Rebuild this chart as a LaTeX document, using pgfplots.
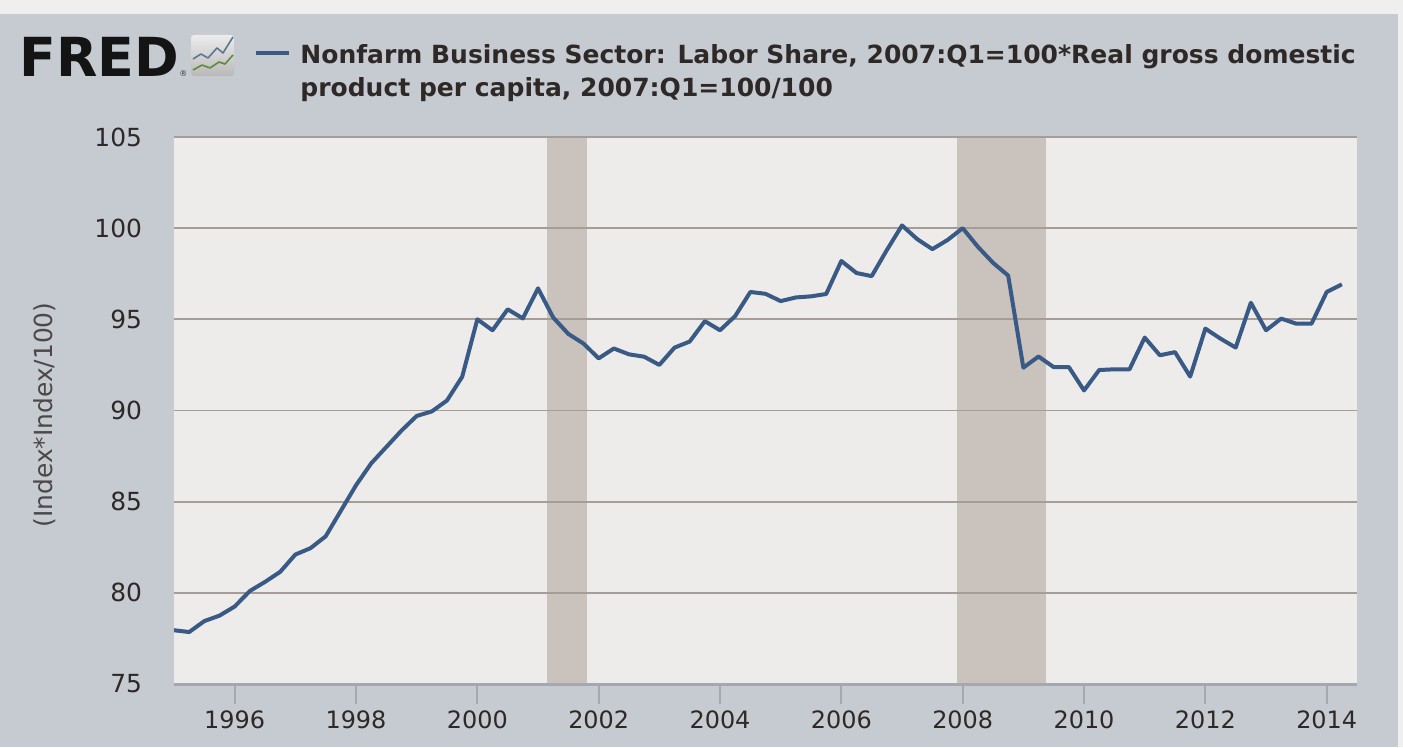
\documentclass[border=0pt]{standalone}
\usepackage{pgfplots}
\usepackage{pgfplotstable}
\pgfplotsset{compat=1.18}
\usepackage{fontspec}
\setmainfont{DejaVu Sans}
\definecolor{outerbg}{HTML}{C6CAD1}
\definecolor{topbg}{HTML}{EFEFEF}
\definecolor{plotbg}{HTML}{EEECEA}
\definecolor{gridc}{HTML}{A59D96}
\definecolor{recess}{HTML}{C9C2BD}
\definecolor{linec}{HTML}{3A5A86}
\definecolor{txt}{HTML}{2E2826}
\definecolor{axisc}{HTML}{A3A8B1}
\definecolor{iconblue}{HTML}{5A7894}
\definecolor{icongreen}{HTML}{5E8A3A}

\pgfdeclarelayer{bg}
\pgfdeclarelayer{bands}
\pgfplotsset{layers/mylayers/.define layer set={bg,axis background,bands,axis grid,axis ticks,axis lines,axis tick labels,main,axis descriptions,axis foreground}{
  grid style={/pgfplots/on layer=axis grid},
  tick style={/pgfplots/on layer=axis ticks},
  axis line style={/pgfplots/on layer=axis lines},
  label style={/pgfplots/on layer=axis descriptions},
  legend style={/pgfplots/on layer=axis descriptions},
  title style={/pgfplots/on layer=axis descriptions},
  ticklabel style={/pgfplots/on layer=axis tick labels},
  axis background@ style={/pgfplots/on layer=axis background},
}}

\pgfplotstableread{
t v
1995.00 77.95
1995.25 77.85
1995.50 78.45
1995.75 78.75
1996.00 79.25
1996.25 80.10
1996.50 80.60
1996.75 81.15
1997.00 82.10
1997.25 82.45
1997.50 83.10
1997.75 84.50
1998.00 85.90
1998.25 87.10
1998.50 88.00
1998.75 88.90
1999.00 89.70
1999.25 89.95
1999.50 90.55
1999.75 91.85
2000.00 95.00
2000.25 94.40
2000.50 95.55
2000.75 95.05
2001.00 96.70
2001.25 95.10
2001.50 94.20
2001.75 93.67
2002.00 92.86
2002.25 93.40
2002.50 93.08
2002.75 92.95
2003.00 92.50
2003.25 93.45
2003.50 93.78
2003.75 94.90
2004.00 94.40
2004.25 95.18
2004.50 96.50
2004.75 96.40
2005.00 96.00
2005.25 96.20
2005.50 96.26
2005.75 96.39
2006.00 98.20
2006.25 97.54
2006.50 97.37
2006.75 98.80
2007.00 100.15
2007.25 99.40
2007.50 98.85
2007.75 99.35
2008.00 100.00
2008.25 98.98
2008.50 98.10
2008.75 97.40
2009.00 92.35
2009.25 92.96
2009.50 92.38
2009.75 92.38
2010.00 91.10
2010.25 92.22
2010.50 92.26
2010.75 92.26
2011.00 94.00
2011.25 93.03
2011.50 93.20
2011.75 91.86
2012.00 94.49
2012.25 93.94
2012.50 93.45
2012.75 95.91
2013.00 94.40
2013.25 95.04
2013.50 94.76
2013.75 94.76
2014.00 96.50
2014.25 96.92
}\laborshare

\begin{document}
\begin{tikzpicture}[x=1bp,y=1bp]
\begin{axis}[
  at={(87bp,31.5bp)}, anchor=south west,
  scale only axis, width=591.5bp, height=273.5bp,
  set layers=mylayers,
  xmin=1995, xmax=2014.5, ymin=75, ymax=105,
  xtick={1996,1998,...,2014}, ytick={75,80,...,105},
  ymajorgrids, grid style={gridc, line width=0.9bp},
  axis background/.style={fill=plotbg},
  axis x line*=bottom, axis y line*=left,
  x axis line style={axisc, line width=1.5bp, -},
  y axis line style={draw=none, -},
  tick align=outside, major tick length=10bp,
  xtick style={axisc, line width=1bp},
  ytick style={draw=none},
  tick label style={font=\fontsize{12}{14}\selectfont, text=txt},
  yticklabel style={font=\fontsize{12.5}{14}\selectfont, xshift=-2.5bp},
  clip=true,
  /pgf/number format/1000 sep={},
  /pgf/number format/assume math mode=true,
]
\addplot[draw=none, fill=recess, on layer=bands] coordinates {(2001.15,75) (2001.15,105) (2001.81,105) (2001.81,75)} -- cycle;
\addplot[draw=none, fill=recess, on layer=bands] coordinates {(2007.90,75) (2007.90,105) (2009.38,105) (2009.38,75)} -- cycle;
\addplot[linec, line width=2bp, line join=round, mark=none] table[x=t, y=v] {\laborshare};
\end{axis}

\begin{pgfonlayer}{bg}
\fill[outerbg] (0,0) rectangle (701.5,373.5);
\fill[topbg] (0,366.5) rectangle (701.5,373.5);
\fill[topbg] (699,0) rectangle (701.5,366.5);
\end{pgfonlayer}

% FRED logo
\node[anchor=base west, inner sep=0, font=\fontsize{27}{28}\selectfont\bfseries, text=black!92] at (9.5,335.5) {FRED};
\node[anchor=base west, inner sep=0, font=\fontsize{4}{4}\selectfont, text=black!80] at (89.5,335.5) {®};
\shade[top color=gray!15, bottom color=gray!55, rounded corners=1.5bp] (95.5,335.5) rectangle (117,356);
\draw[iconblue, line width=0.8bp, line join=round] (96.5,344) -- (100.5,346.5) -- (104,344.5) -- (108.5,349.5) -- (111.5,347) -- (116.5,355);
\draw[icongreen, line width=0.8bp, line join=round] (96.5,338.5) -- (101,341) -- (105,339.5) -- (109.5,342.5) -- (112.5,341.5) -- (116.5,346);

% legend
\draw[linec, line width=1.6bp] (128,347) -- (144.5,347);
\node[anchor=base west, inner sep=0, font=\fontsize{12.55}{14}\selectfont\bfseries, text=txt] at (150,342) {Nonfarm Business Sector: Labor Share, 2007:Q1=100*Real gross domestic};
\node[anchor=base west, inner sep=0, font=\fontsize{12.55}{14}\selectfont\bfseries, text=txt] at (150,325.5) {product per capita, 2007:Q1=100/100};

% y label
\node[rotate=90, inner sep=0, font=\fontsize{12.5}{14}\selectfont, text=txt!85] at (22.5,166) {(Index*Index/100)};

\pgfresetboundingbox
\path[use as bounding box] (0,0) rectangle (701.5,373.5);
\end{tikzpicture}
\end{document}
